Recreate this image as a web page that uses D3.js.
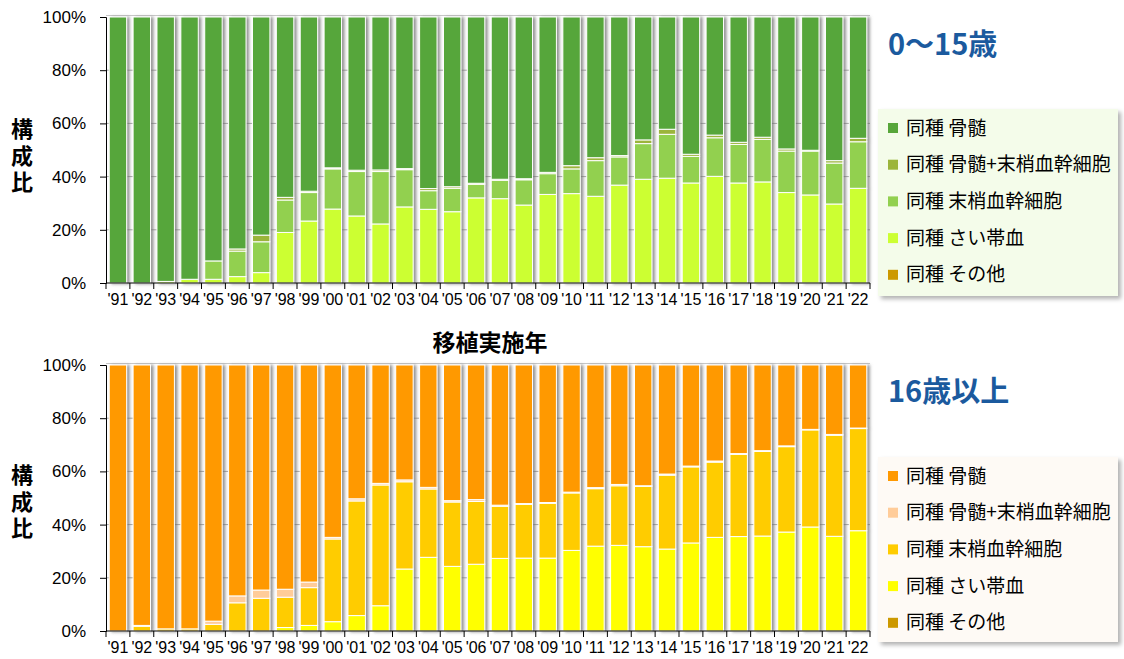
<!DOCTYPE html>
<html lang="ja">
<head>
<meta charset="utf-8">
<script src="https://cdn.jsdelivr.net/npm/d3@7"></script>
<style>
  html, body { margin: 0; padding: 0; background: #fff; }
  svg { display: block; }
</style>
</head>
<body>
<svg id="chart" width="1124" height="659"></svg>
<script>
// Transplant year labels
const years = ["'91","'92","'93","'94","'95","'96","'97","'98","'99","'00","'01","'02","'03","'04","'05","'06",
               "'07","'08","'09","'10","'11","'12","'13","'14","'15","'16","'17","'18","'19","'20","'21","'22"];

// Percent ticks
const yTicks = [0, 20, 40, 60, 80, 100];

// Series names (legend order, top to bottom)
const seriesNames = ["同種 骨髄", "同種 骨髄+末梢血幹細胞", "同種 末梢血幹細胞", "同種 さい帯血", "同種 その他"];

// 0〜15歳: share (%) by stem cell source
const childBM    = [100,100,99.4,98.6,91.7,87.2,82.0,67.8,65.5,56.7,57.6,57.5,57.0,64.5,63.8,62.5,
                    61.0,60.8,58.4,55.9,52.9,52.1,46.2,42.2,51.6,44.4,47.1,45.2,49.6,50.1,54.0,45.6];
const childBMPB  = [0,0,0,0,0,0.8,2.5,1.0,0.5,0.4,0.5,0.6,0.4,0.8,0.6,0.4,
                    0.4,0.4,0.5,1.2,1.1,0.5,1.4,1.9,0.8,1.0,0.8,0.8,0.8,0.3,0.9,1.3];
const childPB    = [0,0,0,0,6.9,9.6,11.6,12.2,10.7,15.1,16.7,19.7,14.0,7.0,8.8,5.1,
                    6.9,9.5,7.8,9.3,13.4,10.6,13.4,16.5,10.0,14.5,14.5,16.0,15.6,16.5,15.4,17.5];
const childCord  = [0,0,0.6,1.4,1.4,2.4,3.9,19.0,23.3,27.8,25.2,22.2,28.6,27.7,26.8,32.0,
                    31.7,29.3,33.3,33.6,32.6,36.8,39.0,39.4,37.6,40.1,37.6,38.0,34.0,33.1,29.7,35.6];
const childOther = [0,0,0,0,0,0,0,0,0,0,0,0,0,0,0,0,
                    0,0,0,0,0,0,0,0,0,0,0,0,0,0,0,0];

// 16歳以上: share (%) by stem cell source
const adultBM    = [100,97.9,99.2,99.2,96.3,86.8,84.6,84.3,81.6,64.8,50.3,44.5,43.2,46.0,51.0,50.6,
                    52.7,52.1,51.7,47.8,46.1,44.9,45.4,41.0,38.0,36.1,33.3,32.2,30.4,24.2,26.1,23.7];
const adultBMPB  = [0,0.3,0,0,1.2,2.6,3.1,3.0,2.1,0.6,0.8,0.6,0.7,0.6,0.5,0.7,
                    0.4,0.3,0.3,0.3,0.4,0.5,0.2,0.4,0.3,0.4,0.3,0.3,0.3,0.2,0.3,0.2];
const adultPB    = [0,1.8,0.8,0.8,2.5,10.6,12.3,11.4,14.2,31.1,43.1,45.4,32.8,25.7,24.2,23.6,
                    19.6,20.2,20.6,21.6,21.6,22.4,22.7,27.8,28.6,28.3,30.9,31.8,32.1,36.5,38.0,38.4];
const adultCord  = [0,0,0,0,0,0,0,1.3,2.1,3.5,5.8,9.5,23.3,27.7,24.3,25.1,
                    27.3,27.4,27.4,30.3,31.9,32.2,31.7,30.8,33.1,35.2,35.5,35.7,37.2,39.1,35.6,37.7];
const adultOther = [0,0,0,0,0,0,0,0,0,0,0,0,0,0,0,0,
                    0,0,0,0,0,0,0,0,0,0,0,0,0,0,0,0];

const childColors = ["#57A63A", "#9BB53B", "#92D050", "#CCFF33", "#CC9900"];
const adultColors = ["#FF9900", "#FFCC99", "#FFCC00", "#FFFF00", "#CC9900"];

const svg = d3.select("#chart");
const fontLatin = "'Liberation Sans', Arial, sans-serif";
const fontJP = "'Noto Sans CJK JP', 'Noto Sans', sans-serif";

// Shadow filters
const defs = svg.append("defs");
const barShadow = defs.append("filter").attr("id", "barShadow")
  .attr("x", "-50%").attr("y", "-5%").attr("width", "200%").attr("height", "110%");
barShadow.append("feDropShadow").attr("dx", 2.5).attr("dy", 0.5).attr("stdDeviation", 1.4)
  .attr("flood-color", "#6b6b6b").attr("flood-opacity", 0.75);
const boxShadow = defs.append("filter").attr("id", "boxShadow")
  .attr("x", "-10%").attr("y", "-10%").attr("width", "120%").attr("height", "120%");
boxShadow.append("feDropShadow").attr("dx", 3).attr("dy", 3).attr("stdDeviation", 2)
  .attr("flood-color", "#000").attr("flood-opacity", 0.3);

function drawPanel(opts) {
  const { top, bottom, series, colors, title, titleY, legendY, legendH, legendBg, yTitleTop } = opts;
  const left = 106, right = 870;

  const x = d3.scaleBand().domain(years).range([left, right]).paddingInner(0.27).paddingOuter(0.135);
  const xEdge = d3.scaleBand().domain(years).range([left, right]);
  const y = d3.scaleLinear().domain([0, 100]).range([bottom, top]);

  const g = svg.append("g");

  // gridlines
  g.append("g").selectAll("line").data(yTicks.filter(t => t > 0)).join("line")
    .attr("x1", left).attr("x2", right)
    .attr("y1", d => y(d) - (d === 100 ? 1.5 : 0)).attr("y2", d => y(d) - (d === 100 ? 1.5 : 0))
    .attr("stroke", d => d === 100 ? "#c8c8c8" : "#a8a8a8").attr("stroke-width", 1);

  // stacked data, bottom to top: other, cord, PB, BM+PB, BM
  const keys = ["other", "cord", "pb", "bmpb", "bm"];
  const colorOf = { bm: colors[0], bmpb: colors[1], pb: colors[2], cord: colors[3], other: colors[4] };
  const rows = years.map((yr, i) => ({
    year: yr, bm: series.bm[i], bmpb: series.bmpb[i], pb: series.pb[i], cord: series.cord[i], other: series.other[i]
  }));
  const stacked = d3.stack().keys(keys)(rows);

  const bars = g.append("g").attr("filter", "url(#barShadow)");
  stacked.forEach(layer => {
    bars.append("g").selectAll("rect")
      .data(layer.filter(d => d[1] - d[0] > 0))
      .join("rect")
      .attr("x", d => x(d.data.year))
      .attr("width", x.bandwidth())
      .attr("y", d => y(d[1]))
      .attr("height", d => y(d[0]) - y(d[1]))
      .attr("fill", colorOf[layer.key])
      .attr("stroke", "#ffffff")
      .attr("stroke-width", 1);
  });

  // y axis
  const yAxis = d3.axisLeft(y).tickValues(yTicks).tickFormat(d => d + "%").tickSize(6).tickPadding(14);
  const ya = g.append("g").attr("transform", `translate(${left},0)`).call(yAxis);
  ya.select(".domain").attr("stroke", "#000");
  ya.selectAll(".tick line").attr("stroke", "#000");
  ya.selectAll("text").attr("font-family", fontLatin).attr("font-size", 17).attr("fill", "#000");

  // x axis: ticks on category boundaries
  const xa = g.append("g").attr("transform", `translate(0,${bottom})`);
  xa.append("line").attr("x1", left).attr("x2", right).attr("stroke", "#000");
  const edges = years.map(d => xEdge(d)).concat([right]);
  xa.selectAll("line.tk").data(edges).join("line").attr("class", "tk")
    .attr("x1", d => d).attr("x2", d => d).attr("y1", 0).attr("y2", 6).attr("stroke", "#000");
  xa.selectAll("text").data(years).join("text")
    .attr("x", d => xEdge(d) + xEdge.bandwidth() / 2)
    .attr("y", 22)
    .attr("text-anchor", "middle")
    .attr("font-family", fontLatin).attr("font-size", 16).attr("fill", "#000")
    .text(d => d);

  // y axis title, written vertically
  g.append("text")
    .attr("x", 22).attr("y", yTitleTop)
    .style("writing-mode", "vertical-rl")
    .style("text-orientation", "upright")
    .attr("letter-spacing", 4.5)
    .attr("font-family", fontJP).attr("font-weight", "bold").attr("font-size", 22).attr("fill", "#000")
    .text("構成比");

  // panel title
  g.append("text").attr("x", 888).attr("y", titleY)
    .attr("font-family", fontJP).attr("font-weight", "bold").attr("font-size", 29).attr("fill", "#1B5A9E")
    .text(title);

  // legend
  const lg = g.append("g");
  lg.append("rect").attr("x", 878).attr("y", legendY).attr("width", 240).attr("height", legendH)
    .attr("fill", legendBg).attr("filter", "url(#boxShadow)");
  const items = lg.selectAll("g.item").data(seriesNames).join("g").attr("class", "item")
    .attr("transform", (d, i) => `translate(888,${legendY + 19 + i * 36.7})`);
  items.append("rect").attr("x", 0).attr("y", -5).attr("width", 10).attr("height", 10)
    .attr("fill", (d, i) => colors[i]);
  items.append("text").attr("x", 18).attr("y", 6.5)
    .attr("font-family", fontJP).attr("font-size", 19).attr("fill", "#000")
    .text(d => d);
}

drawPanel({
  top: 17, bottom: 283,
  series: { bm: childBM, bmpb: childBMPB, pb: childPB, cord: childCord, other: childOther },
  colors: childColors,
  title: "0〜15歳", titleY: 55,
  legendY: 109, legendH: 187, legendBg: "#F4FCEA",
  yTitleTop: 118
});

drawPanel({
  top: 365, bottom: 631,
  series: { bm: adultBM, bmpb: adultBMPB, pb: adultPB, cord: adultCord, other: adultOther },
  colors: adultColors,
  title: "16歳以上", titleY: 402,
  legendY: 457, legendH: 185, legendBg: "#FEFAF5",
  yTitleTop: 464
});

// shared x axis title
svg.append("text").attr("x", 490).attr("y", 351).attr("text-anchor", "middle")
  .attr("font-family", fontJP).attr("font-weight", "bold").attr("font-size", 23).attr("fill", "#000")
  .text("移植実施年");
</script>
</body>
</html>
